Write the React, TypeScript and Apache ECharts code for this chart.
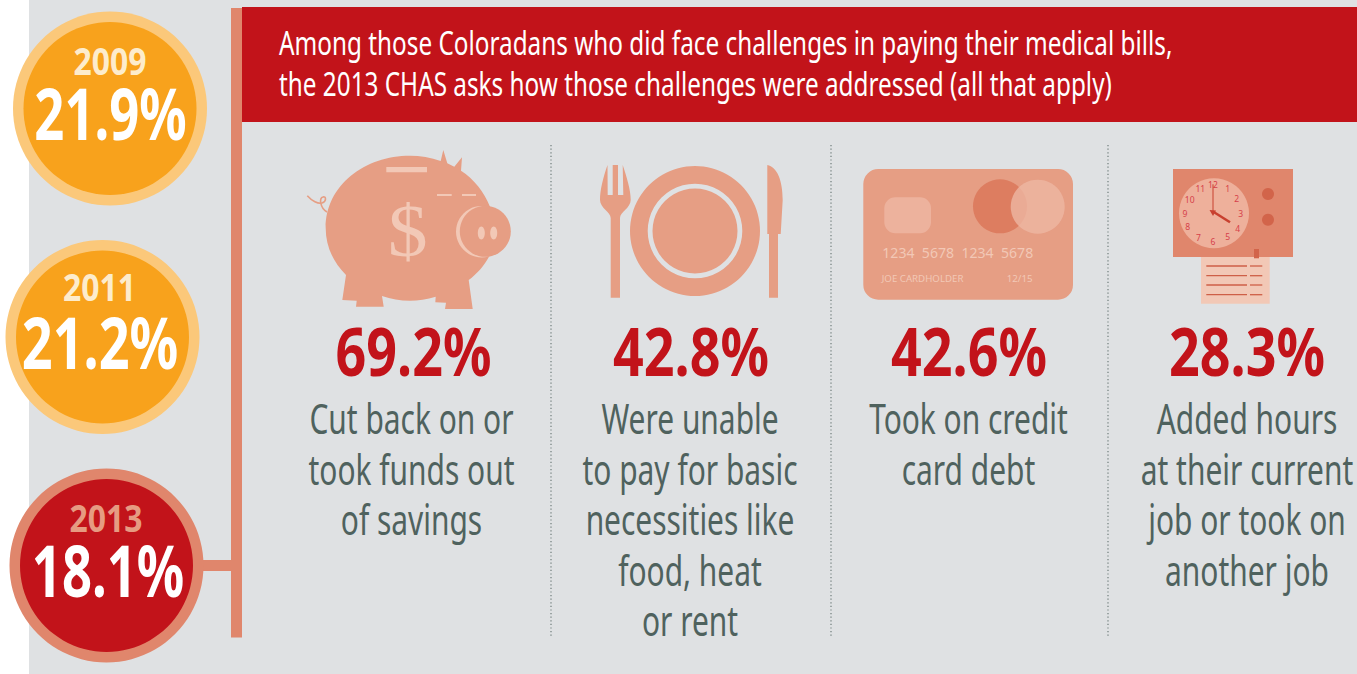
import React, { useEffect, useRef } from "react";
import * as echarts from "echarts";

const years = ["2009", "2011", "2013"];
const rates = ["21.9%", "21.2%", "18.1%"];
const headerLines = [
  "Among those Coloradans who did face challenges in paying their medical bills,",
  "the 2013 CHAS asks how those challenges were addressed (all that apply)",
];
const percents = ["69.2%", "42.8%", "42.6%", "28.3%"];
const labels = [
  ["Cut back on or", "took funds out", "of savings"],
  ["Were unable", "to pay for basic", "necessities like", "food, heat", "or rent"],
  ["Took on credit", "card debt"],
  ["Added hours", "at their current", "job or took on", "another job"],
];
const cardNumber = "1234  5678  1234  5678";
const cardName = "JOE CARDHOLDER";
const cardDate = "12/15";
const clockNumbers = ["12", "1", "2", "3", "4", "5", "6", "7", "8", "9", "10", "11"];

const GREY = "#dfe1e3";
const RED = "#c2131a";
const SALMON = "#e0866c";
const PEACH = "#e69e84";
const PALE = "#f2c8b6";
const ORANGE = "#f8a21c";
const ORANGE_RING = "#fbc87a";
const SLATE = "#4f625e";
const FONT = '"Noto Sans"';

const PIG =
  "M325.7,228 C325.7,185 365,155.7 410,155.7 C420,155.7 431,157.5 440.7,161 L443.3,150 L447.3,163.3 L454.3,166.7 L462,157.3 L461,170.7 C474,179 484,192 490,206.7 L490,255 C484,266 477,274 468.7,280 L472.7,309 L445,309 L446,302.7 L435.3,302.3 L435.7,296.7 C427,299.5 418,300.7 410,300.7 C400,300.7 391,299 382,296 L383.7,306.7 L356,306.7 L356.7,300.7 L342.3,300 L346,275 C333,262 325.7,246 325.7,228 Z";
const TAIL =
  "M307.3,195.7 C312,201 318,204 322,203 C327,201 326,196 323,197 C319,198 320,208 327,212";
const FORK =
  "M607.5,165 C603,178 600,190 600,200 C600,208 610.7,212 610.7,218 L610.7,297.7 L620,297.7 L620,218 C620,212 630.7,208 630.7,200 C630.7,190 627,178 622.7,165 L623.3,195 L618,195 L618,165 L612.7,165 L612.7,195 L607.7,195 Z";
const KNIFE =
  "M767.3,165 C777,167 782.7,180 782.7,200 L780.7,234 L778,234 L778,297.7 L769,297.7 L769,234 L767.3,234 Z";
echarts.graphic.registerShape("pigBody", echarts.graphic.extendPath(PIG, {}));
echarts.graphic.registerShape("pigTail", echarts.graphic.extendPath(TAIL, {}));
echarts.graphic.registerShape("fork", echarts.graphic.extendPath(FORK, {}));
echarts.graphic.registerShape("knife", echarts.graphic.extendPath(KNIFE, {}));

const txt = (
  text: string,
  x: number,
  y: number,
  size: number,
  fill: string,
  scaleX = 1,
  weight: string | number = "normal",
  align = "center",
  family = FONT
) => ({
  type: "text",
  x,
  y,
  scaleX,
  style: { text, x: 0, y: 0, align, verticalAlign: "middle", fontFamily: family, fontSize: size, fontWeight: weight, fill },
});
const rect = (x: number, y: number, width: number, height: number, fill: string, r = 0) => ({
  type: "rect",
  shape: { x, y, width, height, r },
  style: { fill },
});
const circle = (cx: number, cy: number, r: number, fill: string, opacity = 1) => ({
  type: "circle",
  shape: { cx, cy, r },
  style: { fill, opacity },
});
const line = (x1: number, y1: number, x2: number, y2: number, stroke: string, lineWidth = 1, lineDash?: number[]) => ({
  type: "line",
  shape: { x1, y1, x2, y2 },
  style: { stroke, lineWidth, lineDash },
});

const badgeCx = [110, 102.5, 106.5];
const badgeCy = [108.5, 337, 565.5];
const yearCx = [110, 99.5, 106];
const yearCy = [59.5, 286, 517];
const rateCx = [110.5, 100, 108];
const rateCy = [112.5, 341, 569.5];
const rateScale = [0.73, 0.75, 0.73];
const columnCx = [413.5, 691, 969, 1247];
const labelCx = [411.5, 690, 968.5, 1247];
const separatorX = [551, 831, 1108];
const clockPos = [
  [1089, 103], [1133, 116], [1160, 146], [1172, 191], [1163, 235], [1133, 259],
  [1089, 275], [1045, 263], [1013, 230], [1005, 191], [1019, 149], [1051, 116],
];
const receiptY = [266, 275.7, 285, 294.7];

function buildElements() {
  const els: any[] = [];
  els.push(rect(29, 0, 1328, 674, GREY));
  els.push(rect(231, 8, 11, 629.5, SALMON));
  els.push(rect(203, 560, 28, 11, SALMON));
  els.push(rect(242, 7, 1115, 115, RED));
  headerLines.forEach((t, i) => els.push(txt(t, 279, [41.5, 82.5][i], 33, "#ffffff", 0.737, "normal", "left")));

  years.forEach((y, i) => {
    const last = i === 2;
    els.push(circle(badgeCx[i], badgeCy[i], 97, last ? SALMON : ORANGE_RING));
    els.push(circle(badgeCx[i], badgeCy[i], 86.5, last ? RED : ORANGE));
    els.push(txt(y, yearCx[i], yearCy[i], 38, last ? "#e69b82" : "#fdeccc", 0.84, "bold"));
    els.push(txt(rates[i], rateCx[i], rateCy[i], 72, "#ffffff", rateScale[i], "bold"));
  });

  separatorX.forEach((x) => els.push(line(x, 145, x, 637, "#6f7c7a", 1.2, [1.2, 2.4])));

  percents.forEach((p, i) => {
    els.push(txt(p, columnCx[i], 351, 66, RED, 0.815, "bold"));
    labels[i].forEach((t, j) => els.push(txt(t, labelCx[i], 419 + j * 50.4, 41, SLATE, 0.73)));
  });

  // piggy bank
  els.push({ type: "pigBody", x: 0, y: 0, style: { fill: PEACH } });
  els.push({ type: "pigTail", x: 0, y: 0, style: { fill: "none", stroke: PEACH, lineWidth: 1.6 } });
  els.push(rect(386.3, 167, 40.7, 5.3, PALE));
  els.push(rect(437, 194, 14.7, 2, PALE));
  els.push(rect(462, 194, 14, 2, PALE));
  els.push(circle(481.7, 231.7, 25.7, PALE));
  els.push(circle(485.3, 231.3, 25.5, PEACH));
  els.push({ type: "ellipse", shape: { cx: 481.3, cy: 233, rx: 3.5, ry: 6.5 }, style: { fill: PALE } });
  els.push({ type: "ellipse", shape: { cx: 493.7, cy: 233, rx: 3.5, ry: 6.5 }, style: { fill: PALE } });
  els.push(txt("$", 407.7, 231, 74, PALE, 1.08, "normal", "center", '"Liberation Serif"'));

  // plate
  els.push({ type: "fork", x: 0, y: 0, style: { fill: PEACH } });
  els.push({ type: "knife", x: 0, y: 0, style: { fill: PEACH } });
  els.push(circle(695, 231, 65, PEACH));
  els.push({ type: "ring", shape: { cx: 695, cy: 231, r: 47.3, r0: 42.5 }, style: { fill: GREY } });

  // credit card
  els.push(rect(863.3, 169, 209.7, 130.7, PEACH, 15));
  els.push(rect(884.3, 197.3, 46.7, 36, "#edb29d", 11));
  els.push(circle(1000, 206.3, 27, "#dd7d60"));
  els.push(circle(1037.7, 206.7, 27, "#eeb7a3", 0.8));
  els.push(txt(cardNumber, 882.3, 252, 15, PALE, 0.94, "normal", "left"));
  els.push(txt(cardName, 881.7, 278.3, 9.5, PALE, 1.02, "normal", "left"));
  els.push(txt(cardDate, 1006.7, 278.3, 9.5, PALE, 1.03, "normal", "left"));

  // clock radio and receipt
  els.push(rect(1201, 257, 68.7, 46.7, PALE));
  receiptY.forEach((y) => {
    els.push(line(1206.3, y, 1247, y, "#ce5f47", 1.3));
    els.push(line(1250, y, 1262.3, y, "#ce5f47", 1.3));
  });
  els.push(rect(1173, 169, 120, 88, SALMON));
  els.push(rect(1254, 249, 5, 9.3, "#d2644a"));
  els.push(circle(1214, 213.3, 35, "#eeb09b"));
  els.push(circle(1268, 194, 6, "#d2644a"));
  els.push(circle(1268, 219.7, 6, "#d2644a"));
  clockNumbers.forEach((n, i) =>
    els.push(txt(n, 850 + clockPos[i][0] / 3, 150 + clockPos[i][1] / 3, 9.5, "#d6404a", 0.9))
  );
  els.push(line(1213, 184.3, 1213, 213.3, "#c8402f", 1));
  els.push(line(1213.3, 211.7, 1230, 222.3, "#c8402f", 2.5));
  els.push({ type: "polygon", shape: { points: [[1209.5, 210], [1216, 210.5], [1213, 216]] }, style: { fill: "#c8402f" } });
  return els;
}

export default function App() {
  const ref = useRef<HTMLDivElement>(null);
  useEffect(() => {
    document.body.style.margin = "0";
    document.body.style.background = "#ffffff";
    const chart = echarts.init(ref.current!, undefined, { renderer: "svg" });
    chart.setOption({ animation: false, graphic: { elements: buildElements() } });
    return () => chart.dispose();
  }, []);
  return <div ref={ref} style={{ width: 1357, height: 674 }} />;
}
